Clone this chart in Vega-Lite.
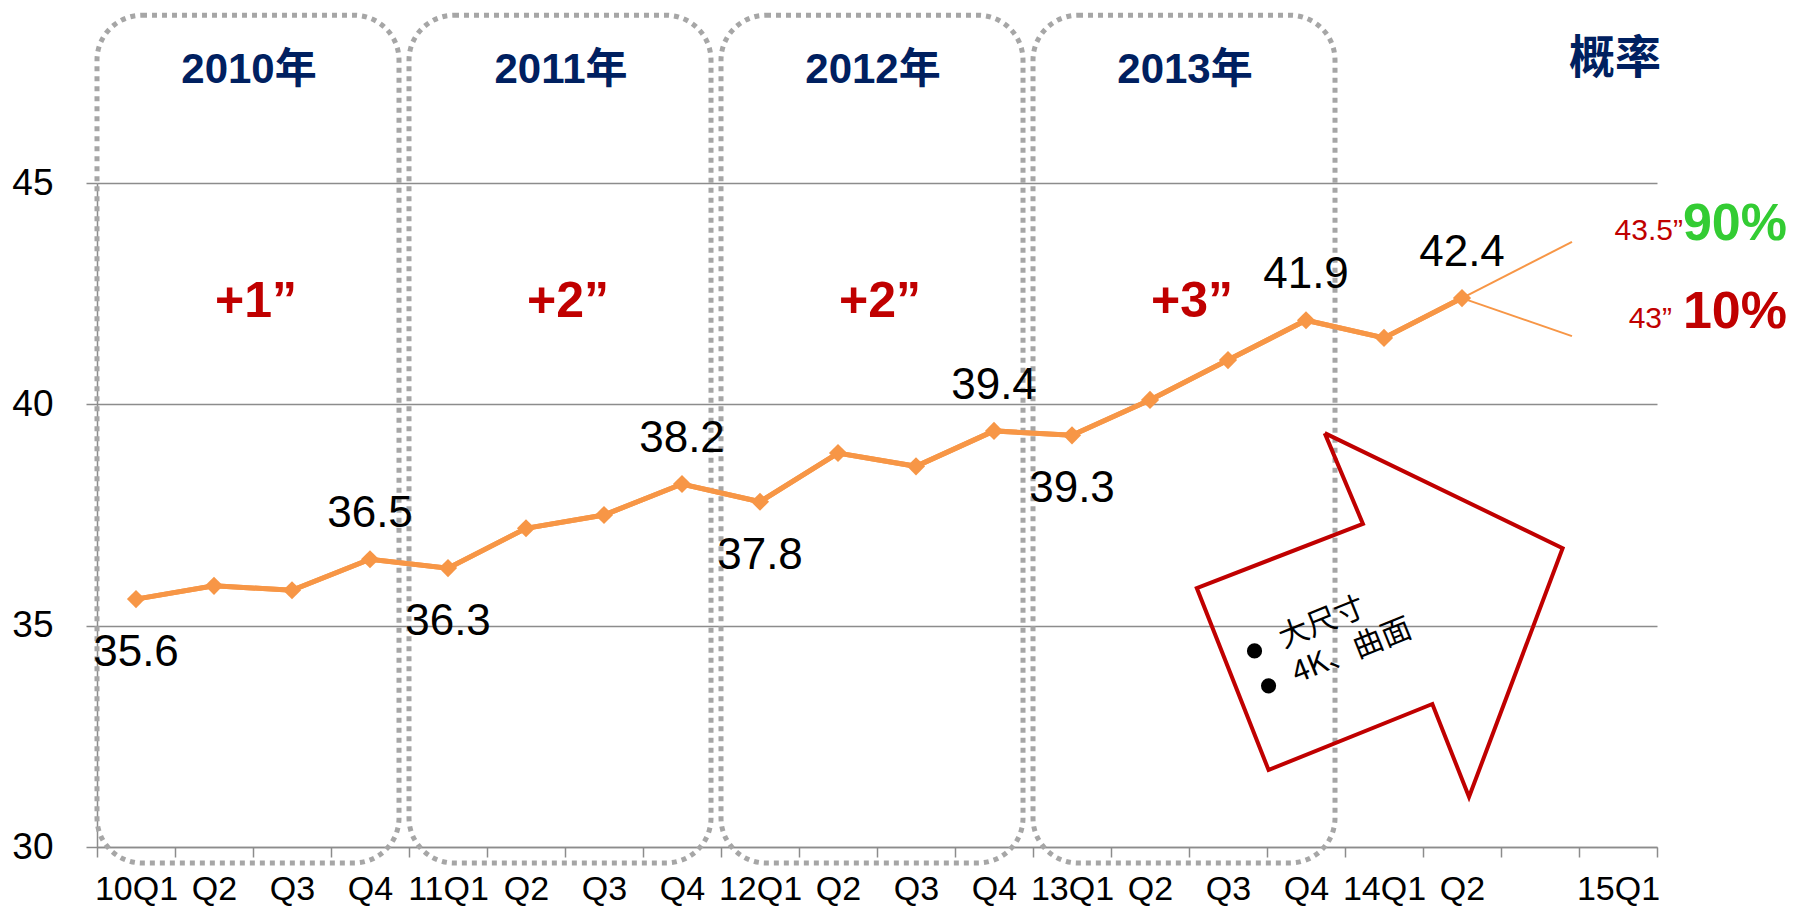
{
  "$schema": "https://vega.github.io/schema/vega-lite/v6.json",
  "width": 1560,
  "height": 664,
  "autosize": {"type": "none"},
  "padding": {"left": 97, "top": 183, "right": 138, "bottom": 62},
  "background": "white",
  "config": {"view": {"stroke": null}},
  "datasets": {
    "series": [
      {"q": "10Q1", "v": 35.6}, {"q": "10Q2", "v": 35.9}, {"q": "10Q3", "v": 35.8}, {"q": "10Q4", "v": 36.5},
      {"q": "11Q1", "v": 36.3}, {"q": "11Q2", "v": 37.2}, {"q": "11Q3", "v": 37.5}, {"q": "11Q4", "v": 38.2},
      {"q": "12Q1", "v": 37.8}, {"q": "12Q2", "v": 38.9}, {"q": "12Q3", "v": 38.6}, {"q": "12Q4", "v": 39.4},
      {"q": "13Q1", "v": 39.3}, {"q": "13Q2", "v": 40.1}, {"q": "13Q3", "v": 41.0}, {"q": "13Q4", "v": 41.9},
      {"q": "14Q1", "v": 41.5}, {"q": "14Q2", "v": 42.4}
    ],
    "years": [
      {"start": "10Q1", "end": "10Q4", "mid": "10Q2", "year": "2010年", "inc": "+1”"},
      {"start": "11Q1", "end": "11Q4", "mid": "11Q2", "year": "2011年", "inc": "+2”"},
      {"start": "12Q1", "end": "12Q4", "mid": "12Q2", "year": "2012年", "inc": "+2”"},
      {"start": "13Q1", "end": "13Q4", "mid": "13Q2", "year": "2013年", "inc": "+3”"}
    ],
    "proj": [
      {"from": "14Q2", "to": "14Q3", "v": 42.4, "vEnd": 43.67},
      {"from": "14Q2", "to": "14Q3", "v": 42.4, "vEnd": 41.54}
    ],
    "arrow": [
      {"o": 1, "qx": 15.74, "v": 39.35},
      {"o": 2, "qx": 16.23, "v": 37.30},
      {"o": 3, "qx": 14.10, "v": 35.85},
      {"o": 4, "qx": 15.02, "v": 31.74},
      {"o": 5, "qx": 17.12, "v": 33.23},
      {"o": 6, "qx": 17.59, "v": 31.13},
      {"o": 7, "qx": 18.79, "v": 36.75},
      {"o": 8, "qx": 15.74, "v": 39.35}
    ],
    "bullets": [
      {"qx": 14.84, "v": 34.43},
      {"qx": 15.02, "v": 33.64}
    ],
    "notes": [
      {"t": "大尺寸", "qx": 15.17, "v": 34.68},
      {"t": "4K、曲面", "qx": 15.34, "v": 33.89}
    ]
  },
  "layer": [
    {
      "layer": [
        {
          "data": {"name": "series"},
          "mark": {"type": "line", "color": "#f79646", "strokeWidth": 5},
          "encoding": {
            "x": {
              "field": "q", "type": "nominal",
              "scale": {"type": "band", "paddingInner": 0, "paddingOuter": 0,
                "domain": ["10Q1","10Q2","10Q3","10Q4","11Q1","11Q2","11Q3","11Q4","12Q1","12Q2","12Q3","12Q4","13Q1","13Q2","13Q3","13Q4","14Q1","14Q2","14Q3","15Q1"]},
              "axis": {
                "title": null, "tickBand": "extent", "tickSize": 10, "tickColor": "#8c8c8c", "tickWidth": 1.5,
                "domainColor": "#8c8c8c", "domainWidth": 1.5, "labelAngle": 0,
                "labelFont": "Liberation Sans", "labelFontSize": 34, "labelColor": "#000000", "labelPadding": 15,
                "labelExpr": "isString(datum.value) ? (datum.value == '14Q3' ? '' : (test(/Q1/, datum.value) ? datum.value : slice(datum.value, 2))) : ''"
              }
            },
            "y": {
              "field": "v", "type": "quantitative",
              "scale": {"domain": [30, 45], "nice": false, "zero": false},
              "axis": {
                "title": null, "orient": "left", "values": [30, 35, 40, 45], "grid": true, "gridColor": "#8c8c8c", "gridWidth": 1.5,
                "domainColor": "#8c8c8c", "domainWidth": 1.5, "tickColor": "#8c8c8c", "tickWidth": 1.5, "tickSize": 11,
                "labelFont": "Liberation Sans", "labelFontSize": 37, "labelColor": "#000000", "labelPadding": 33
              }
            }
          }
        },
        {
          "data": {"name": "years"},
          "mark": {"type": "rect", "filled": false, "stroke": "#a6a6a6", "strokeWidth": 5, "strokeDash": [5, 5], "cornerRadius": 45, "x2Offset": -10},
          "encoding": {
            "x": {"field": "start", "type": "nominal", "bandPosition": 0},
            "x2": {"field": "end", "bandPosition": 1},
            "y": {"datum": 29.64, "type": "quantitative"},
            "y2": {"datum": 48.79}
          }
        },
        {
          "data": {"name": "series"},
          "mark": {"type": "line", "color": "#f79646", "strokeWidth": 5},
          "encoding": {
            "x": {"field": "q", "type": "nominal"},
            "y": {"field": "v", "type": "quantitative"}
          }
        },
        {
          "data": {"name": "proj"},
          "mark": {"type": "rule", "color": "#f79646", "strokeWidth": 2},
          "encoding": {
            "x": {"field": "from", "type": "nominal", "bandPosition": 0.5},
            "x2": {"field": "to", "bandPosition": 0.91},
            "y": {"field": "v", "type": "quantitative"},
            "y2": {"field": "vEnd"}
          }
        },
        {
          "data": {"name": "series"},
          "mark": {"type": "point", "shape": "diamond", "filled": true, "size": 330, "color": "#f79646", "opacity": 1},
          "encoding": {
            "x": {"field": "q", "type": "nominal"},
            "y": {"field": "v", "type": "quantitative"}
          }
        },
        {
          "data": {"name": "series"},
          "transform": [{"filter": {"field": "q", "oneOf": ["10Q4", "11Q4", "12Q4", "13Q4", "14Q2"]}}],
          "mark": {"type": "text", "font": "Liberation Sans", "fontSize": 44, "color": "#000000", "baseline": "middle", "align": "center", "dy": -45},
          "encoding": {
            "x": {"field": "q", "type": "nominal"},
            "y": {"field": "v", "type": "quantitative"},
            "text": {"field": "v", "type": "quantitative", "format": ".1f"}
          }
        },
        {
          "data": {"name": "series"},
          "transform": [{"filter": {"field": "q", "oneOf": ["10Q1", "11Q1", "12Q1", "13Q1"]}}],
          "mark": {"type": "text", "font": "Liberation Sans", "fontSize": 44, "color": "#000000", "baseline": "middle", "align": "center", "dy": 54},
          "encoding": {
            "x": {"field": "q", "type": "nominal"},
            "y": {"field": "v", "type": "quantitative"},
            "text": {"field": "v", "type": "quantitative", "format": ".1f"}
          }
        },
        {
          "data": {"name": "years"},
          "mark": {"type": "text", "font": "Liberation Sans, Noto Sans CJK SC", "fontWeight": "bold", "fontSize": 42, "color": "#002060", "baseline": "middle", "align": "center", "dx": -4},
          "encoding": {
            "x": {"field": "mid", "type": "nominal", "bandPosition": 1},
            "y": {"datum": 47.55, "type": "quantitative"},
            "text": {"field": "year"}
          }
        },
        {
          "data": {"name": "years"},
          "mark": {"type": "text", "font": "Liberation Sans", "fontWeight": "bold", "fontSize": 50, "color": "#c00000", "baseline": "middle", "align": "center", "dx": 3},
          "encoding": {
            "x": {"field": "mid", "type": "nominal", "bandPosition": 1},
            "y": {"datum": 42.31, "type": "quantitative"},
            "text": {"field": "inc"}
          }
        },
        {
          "data": {"values": [{"t": "概率"}]},
          "mark": {"type": "text", "font": "Noto Sans CJK SC", "fontWeight": "bold", "fontSize": 46, "color": "#002060", "baseline": "middle", "align": "center", "dx": -3},
          "encoding": {
            "x": {"datum": "15Q1", "bandPosition": 0.5},
            "y": {"datum": 47.8, "type": "quantitative"},
            "text": {"field": "t"}
          }
        },
        {
          "data": {"values": [{"t": "90%"}]},
          "mark": {"type": "text", "font": "Liberation Sans", "fontWeight": "bold", "fontSize": 52, "color": "#33cc33", "baseline": "alphabetic", "align": "right", "dx": 130},
          "encoding": {
            "x": {"datum": "15Q1", "bandPosition": 1},
            "y": {"datum": 43.71, "type": "quantitative"},
            "text": {"field": "t"}
          }
        },
        {
          "data": {"values": [{"t": "43.5”"}]},
          "mark": {"type": "text", "font": "Liberation Sans", "fontSize": 30, "color": "#c00000", "baseline": "alphabetic", "align": "right", "dx": 26},
          "encoding": {
            "x": {"datum": "15Q1", "bandPosition": 1},
            "y": {"datum": 43.71, "type": "quantitative"},
            "text": {"field": "t"}
          }
        },
        {
          "data": {"values": [{"t": "10%"}]},
          "mark": {"type": "text", "font": "Liberation Sans", "fontWeight": "bold", "fontSize": 52, "color": "#c00000", "baseline": "alphabetic", "align": "right", "dx": 130},
          "encoding": {
            "x": {"datum": "15Q1", "bandPosition": 1},
            "y": {"datum": 41.72, "type": "quantitative"},
            "text": {"field": "t"}
          }
        },
        {
          "data": {"values": [{"t": "43”"}]},
          "mark": {"type": "text", "font": "Liberation Sans", "fontSize": 30, "color": "#c00000", "baseline": "alphabetic", "align": "right", "dx": 15},
          "encoding": {
            "x": {"datum": "15Q1", "bandPosition": 1},
            "y": {"datum": 41.72, "type": "quantitative"},
            "text": {"field": "t"}
          }
        }
      ]
    },
    {
      "layer": [
        {
          "data": {"name": "arrow"},
          "mark": {"type": "line", "color": "#c00000", "strokeWidth": 4, "strokeJoin": "miter"},
          "encoding": {
            "x": {"field": "qx", "type": "quantitative", "scale": {"domain": [0, 20], "nice": false, "zero": false}, "axis": null},
            "y": {"field": "v", "type": "quantitative", "scale": {"domain": [30, 45], "nice": false, "zero": false}, "axis": null},
            "order": {"field": "o", "type": "quantitative"}
          }
        },
        {
          "data": {"name": "bullets"},
          "mark": {"type": "point", "shape": "circle", "filled": true, "size": 230, "color": "#000000", "opacity": 1},
          "encoding": {
            "x": {"field": "qx", "type": "quantitative", "axis": null},
            "y": {"field": "v", "type": "quantitative", "axis": null}
          }
        },
        {
          "data": {"name": "notes"},
          "mark": {"type": "text", "font": "Noto Sans CJK SC", "fontSize": 30, "color": "#000000", "angle": -22, "align": "left", "baseline": "middle"},
          "encoding": {
            "x": {"field": "qx", "type": "quantitative", "axis": null},
            "y": {"field": "v", "type": "quantitative", "axis": null},
            "text": {"field": "t"}
          }
        }
      ]
    }
  ],
  "resolve": {"scale": {"x": "independent"}, "axis": {"x": "independent", "y": "independent"}}
}
